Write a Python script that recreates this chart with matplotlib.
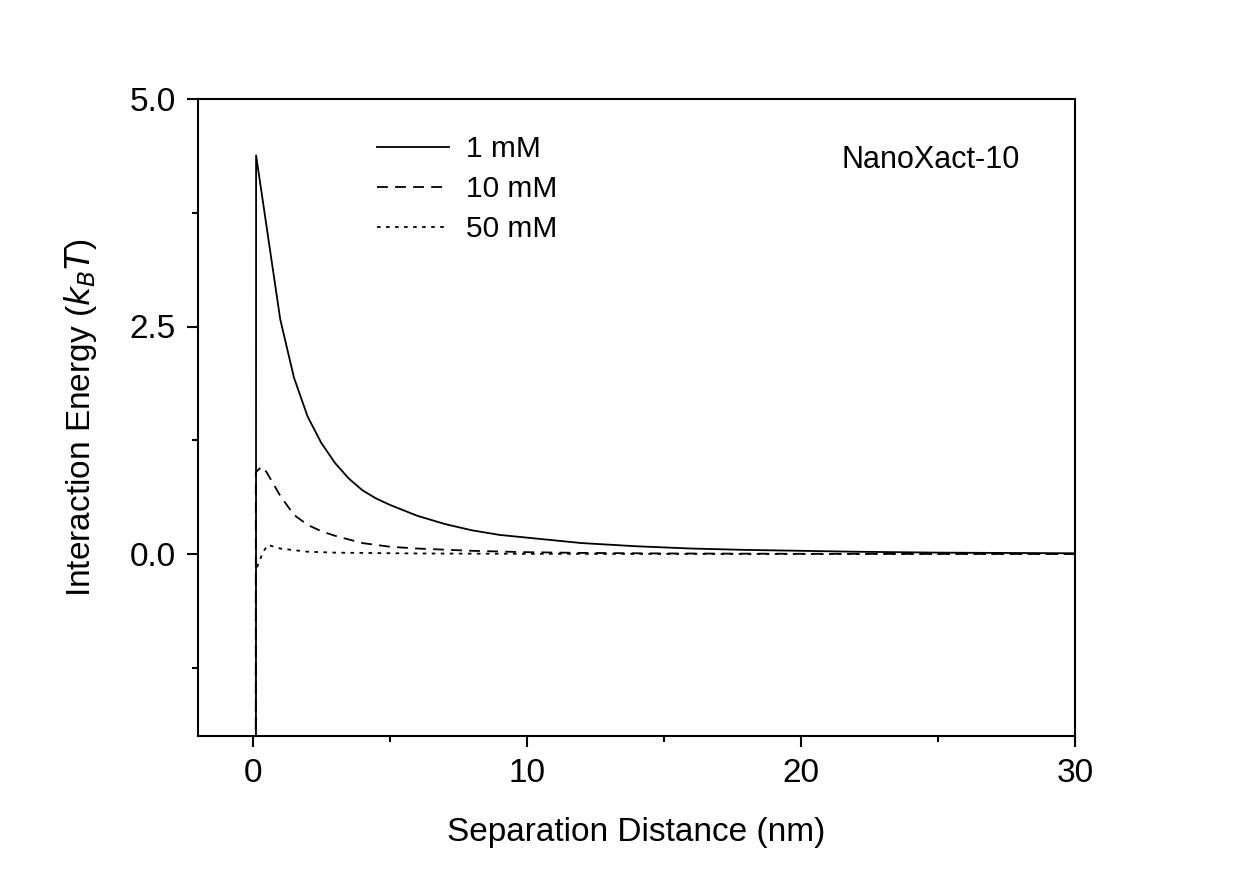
import matplotlib
matplotlib.use("Agg")
import matplotlib.pyplot as plt
from matplotlib.ticker import MultipleLocator

plt.rcParams['font.family'] = ['Liberation Sans', 'DejaVu Sans']

# Data
x_1mM = [0.10, 0.12, 1.0, 1.5, 2.0, 2.5, 3.0, 3.5, 4.0, 4.5, 5.0, 6.0, 7.0, 8.0, 9.0, 10.0, 12.0, 14.0, 16.0, 18.0, 20.0, 22.0, 25.0, 30.0]
y_1mM = [-20.0, 4.38, 2.58, 1.94, 1.51, 1.22, 1.00, 0.83, 0.70, 0.61, 0.54, 0.42, 0.33, 0.26, 0.21, 0.18, 0.12, 0.085, 0.06, 0.045, 0.035, 0.025, 0.015, 0.008]

x_10mM = [0.10, 0.11, 0.33, 0.5, 1.0, 1.5, 2.0, 2.5, 3.0, 4.0, 5.0, 6.0, 8.0, 10.0, 12.0, 15.0, 20.0, 25.0, 30.0]
y_10mM = [-20.0, 0.90, 0.96, 0.90, 0.64, 0.43, 0.32, 0.25, 0.20, 0.12, 0.08, 0.06, 0.035, 0.02, 0.012, 0.006, 0.002, 0.001, 0.0]

x_50mM = [0.10, 0.11, 0.37, 0.55, 1.0, 2.0, 3.0, 4.5, 6.0, 8.0, 10.0, 15.0, 20.0, 30.0]
y_50mM = [-20.0, -0.18, 0.02, 0.10, 0.06, 0.025, 0.015, 0.01, 0.006, 0.004, 0.002, 0.001, 0.0, 0.0]

labels = ["1 mM", "10 mM", "50 mM"]

fig = plt.figure(figsize=(12.45, 8.73), dpi=100)
ax = fig.add_axes([198/1245, 1 - 736/873, (1075-198)/1245, (736-99)/873])

ax.plot(x_1mM, y_1mM, color='black', lw=1.3, linestyle='-', label=labels[0])
ax.plot(x_10mM, y_10mM, color='black', lw=1.3, linestyle=(0, (6, 4)), label=labels[1])
ax.plot(x_50mM, y_50mM, color='black', lw=1.3, linestyle=(0, (2, 3)), label=labels[2])

ax.set_xlim(-2, 30)
ax.set_ylim(-2.0, 5.0)
ax.xaxis.set_major_locator(MultipleLocator(10))
ax.xaxis.set_minor_locator(MultipleLocator(5))
ax.yaxis.set_major_locator(MultipleLocator(2.5))
ax.yaxis.set_minor_locator(MultipleLocator(1.25))
ax.yaxis.set_major_formatter(plt.FuncFormatter(lambda v, p: f"{v:.1f}"))

for s in ax.spines.values():
    s.set_linewidth(1.5)
ax.tick_params(which='major', direction='out', length=8, width=1.5, labelsize=24, pad=8)
ax.tick_params(which='minor', direction='out', length=4, width=1.5)

ax.set_xlabel("Separation Distance (nm)", fontsize=24, labelpad=20)
ax.set_ylabel(r"Interaction Energy ($k_B$$T$)", fontsize=24, labelpad=22)

leg = ax.legend(loc='upper left', bbox_to_anchor=(0.174, 0.985), frameon=False,
                fontsize=21.5, handlelength=2.4, handletextpad=0.55, labelspacing=0.4)

ax.text(0.835, 0.905, "NanoXact-10", transform=ax.transAxes, fontsize=22,
        ha='center', va='center')

fig.savefig("out.png", dpi=100)
